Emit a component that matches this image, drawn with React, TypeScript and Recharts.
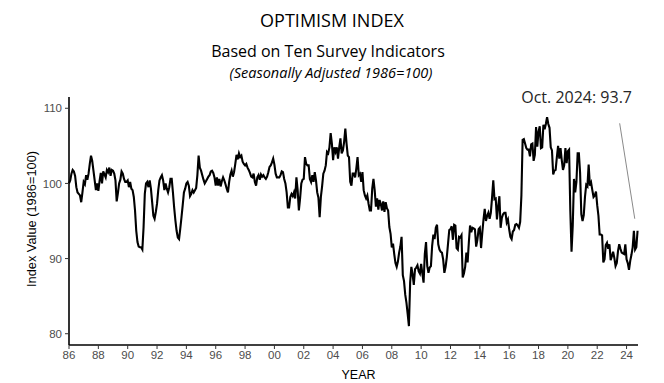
import React from 'react'
import { LineChart, Line, XAxis, YAxis, ReferenceLine } from 'recharts'

// monthly index values (1986=100)
const idx1986to1990 = [
  100.0, 100.4, 101.3, 101.8, 101.6, 101.0, 99.5, 98.8, 98.6, 98.4, 97.5, 98.8,
  100.2, 99.9, 101.1, 100.5, 101.3, 102.6, 103.7, 103.0, 101.7, 100.4, 99.1, 100.0,
  99.0, 100.3, 101.4, 100.0, 101.6, 101.2, 100.8, 101.8, 101.5, 102.1, 101.0, 101.8,
  101.7, 101.3, 100.4, 97.6, 98.7, 100.0, 100.5, 101.6, 101.3, 100.6, 100.2, 100.2,
  100.4, 99.5, 100.2, 99.3, 99.1, 98.2, 96.4, 93.7, 92.2, 91.6, 91.5, 91.5,
]
const idx1991to1995 = [
  91.2, 94.2, 98.6, 100.0, 100.2, 99.5, 100.4, 99.3, 97.5, 95.7, 95.3, 96.2,
  97.3, 99.1, 100.4, 100.8, 101.1, 100.4, 99.1, 100.0, 99.3, 98.8, 99.5, 100.6,
  100.6, 98.8, 96.8, 95.1, 93.7, 92.8, 92.6, 94.0, 95.5, 97.1, 98.8, 99.3,
  100.0, 100.2, 99.7, 98.3, 98.6, 99.1, 98.8, 99.1, 99.4, 101.1, 103.7, 102.1,
  101.7, 101.1, 100.5, 100.0, 100.3, 100.6, 100.9, 101.1, 101.6, 101.7, 101.4, 100.8,
]
const idx1996to2000 = [
  99.7, 100.8, 99.7, 100.6, 99.6, 100.3, 100.8, 100.4, 99.9, 99.3, 98.8, 100.2,
  101.2, 101.7, 100.9, 101.5, 102.6, 103.8, 103.2, 104.0, 103.5, 103.7, 102.9, 102.6,
  102.4, 102.6, 102.1, 101.8, 101.4, 100.9, 100.8, 101.3, 100.2, 99.7, 100.8, 101.1,
  100.5, 101.2, 100.9, 101.1, 100.8, 100.6, 100.9, 101.5, 102.2, 102.4, 102.8, 103.3,
  102.5, 101.3, 100.8, 100.8, 100.8, 101.1, 101.6, 101.5, 100.6, 100.0, 98.8, 96.8,
]
const idx2001to2005 = [
  96.8, 98.2, 98.6, 98.3, 98.8, 98.0, 100.8, 99.1, 96.4, 98.0, 100.0, 100.5,
  100.6, 103.5, 102.6, 102.4, 102.4, 100.6, 100.2, 101.1, 100.2, 101.5, 100.4, 98.8,
  98.1, 95.5, 98.2, 99.6, 101.3, 101.7, 102.4, 104.2, 104.0, 104.8, 106.7, 105.3,
  103.1, 104.8, 104.2, 104.8, 103.3, 104.8, 106.0, 104.0, 104.4, 105.5, 107.3, 105.3,
  103.7, 103.5, 100.2, 99.7, 101.3, 101.3, 100.8, 102.0, 103.5, 101.1, 101.3, 100.2,
]
const idx2006to2010 = [
  101.5, 99.1, 98.4, 98.0, 98.4, 97.3, 96.4, 96.4, 99.3, 100.6, 99.1, 96.9,
  98.0, 96.5, 97.8, 97.3, 96.4, 97.6, 96.2, 97.5, 96.7, 96.4, 94.2, 93.3,
  91.5, 92.0, 90.6, 89.4, 88.9, 89.6, 90.8, 91.6, 92.9, 87.8, 87.0, 85.2,
  84.1, 82.6, 81.0, 86.8, 88.9, 87.9, 86.5, 88.6, 88.8, 89.1, 88.3, 88.0,
  89.3, 88.0, 86.8, 90.6, 92.2, 89.0, 88.1, 88.8, 89.0, 91.7, 93.2, 92.6,
]
const idx2011to2015 = [
  94.1, 94.5, 91.9, 91.2, 90.9, 90.8, 89.9, 88.1, 88.9, 90.2, 92.0, 93.8,
  93.9, 94.3, 92.5, 94.5, 94.4, 91.4, 91.2, 92.9, 92.8, 93.1, 87.5, 88.0,
  88.9, 90.8, 89.5, 92.1, 94.4, 93.5, 94.1, 94.0, 93.9, 91.6, 92.5, 93.9,
  94.1, 91.4, 93.4, 95.2, 96.6, 95.0, 95.7, 96.1, 95.3, 96.1, 98.1, 100.4,
  97.9, 98.0, 95.2, 96.9, 98.3, 94.1, 95.4, 95.9, 96.1, 96.1, 94.8, 95.2,
]
const idx2016to2020 = [
  93.9, 92.9, 92.6, 93.6, 93.8, 94.5, 94.6, 94.4, 94.1, 94.9, 98.4, 105.8,
  105.9, 105.3, 104.7, 104.5, 104.5, 103.6, 105.2, 105.3, 103.0, 103.8, 107.5, 104.9,
  106.9, 107.6, 104.7, 104.8, 107.8, 107.2, 107.9, 108.8, 107.9, 107.4, 104.8, 104.4,
  101.2, 101.7, 101.8, 103.5, 105.0, 103.3, 104.7, 103.1, 101.8, 102.4, 104.7, 102.7,
  104.3, 104.5, 96.4, 90.9, 94.4, 100.6, 98.8, 100.2, 104.0, 104.0, 101.4, 95.9,
]
const idx2021to2024 = [
  95.0, 95.8, 98.2, 99.8, 99.6, 102.5, 99.7, 100.1, 99.1, 98.2, 98.4, 98.9,
  97.1, 95.7, 93.2, 93.2, 93.1, 89.5, 89.9, 91.8, 92.1, 91.3, 91.9, 89.8,
  90.3, 90.9, 90.1, 89.0, 89.4, 91.0, 91.9, 91.3, 90.8, 90.7, 90.6, 91.9,
  89.9, 89.4, 88.5, 89.7, 90.5, 91.5, 93.7, 91.2, 91.5, 93.7,
]

const START_YEAR = 1986
const yearTicks = [1986, 1988, 1990, 1992, 1994, 1996, 1998, 2000, 2002, 2004, 2006, 2008, 2010, 2012, 2014, 2016, 2018, 2020, 2022, 2024]
const valueTicks = [80, 90, 100, 110]

const values = [
  ...idx1986to1990, ...idx1991to1995, ...idx1996to2000, ...idx2001to2005,
  ...idx2006to2010, ...idx2011to2015, ...idx2016to2020, ...idx2021to2024,
]
const data = values.map((v, i) => ({ t: START_YEAR + i / 12, v }))
const last = data[data.length - 1]

const tickFont = { fontSize: 11.5, fill: '#4d4d4d', fontFamily: 'Liberation Sans, Arial, sans-serif' }

export default function App() {
  return (
    <div style={{ position: 'absolute', left: 0, top: 0, width: 664, height: 383, background: '#fff' }}>
      <LineChart width={664} height={383} data={data} margin={{ top: 97, right: 26, bottom: 8, left: 29 }}>
        <XAxis
          dataKey="t"
          type="number"
          domain={[1986, 2024.78]}
          ticks={yearTicks}
          tickFormatter={(t: number) => String(t % 100).padStart(2, '0')}
          tick={tickFont}
          tickSize={4}
          tickMargin={2}
          height={30}
          axisLine={{ stroke: '#000', strokeWidth: 1.6 }}
          tickLine={{ stroke: '#333' }}
        />
        <YAxis
          type="number"
          domain={[78.5, 111.5]}
          ticks={valueTicks}
          tick={tickFont}
          tickSize={4}
          tickMargin={3}
          width={40}
          axisLine={{ stroke: '#000', strokeWidth: 1.6 }}
          tickLine={{ stroke: '#333' }}
        />
        <ReferenceLine
          segment={[{ x: 2023.53, y: 108 }, { x: 2024.56, y: 95.3 }]}
          stroke="#8a8a8a"
          strokeWidth={1}
          ifOverflow="visible"
        />
        <Line type="linear" dataKey="v" stroke="#000" strokeWidth={2.1} dot={false} isAnimationActive={false} />
      </LineChart>
      <svg width={664} height={383} style={{ position: 'absolute', left: 0, top: 0, pointerEvents: 'none' }}>
        <g fontFamily="'Open Sans', sans-serif" textAnchor="middle" fill="#000">
          <text x={332} y={27} fontSize={18}>OPTIMISM INDEX</text>
          <text x={328} y={57} fontSize={16}>Based on Ten Survey Indicators</text>
          <text x={331} y={77.5} fontSize={14.5} fontStyle="italic">(Seasonally Adjusted 1986=100)</text>
        </g>
        <text x={632} y={103} fontSize={16} textAnchor="end" fill="#262626" fontFamily="'Open Sans', sans-serif">
          {`Oct. 2024: ${last.v.toFixed(1)}`}
        </text>
        <text x={358.5} y={379} fontSize={12.5} textAnchor="middle" fill="#000" fontFamily="Liberation Sans, Arial, sans-serif">YEAR</text>
        <text x={0} y={0} fontSize={12.8} textAnchor="middle" fill="#000" fontFamily="Liberation Sans, Arial, sans-serif"
          transform="translate(36 219) rotate(-90)">Index Value (1986=100)</text>
      </svg>
    </div>
  )
}
